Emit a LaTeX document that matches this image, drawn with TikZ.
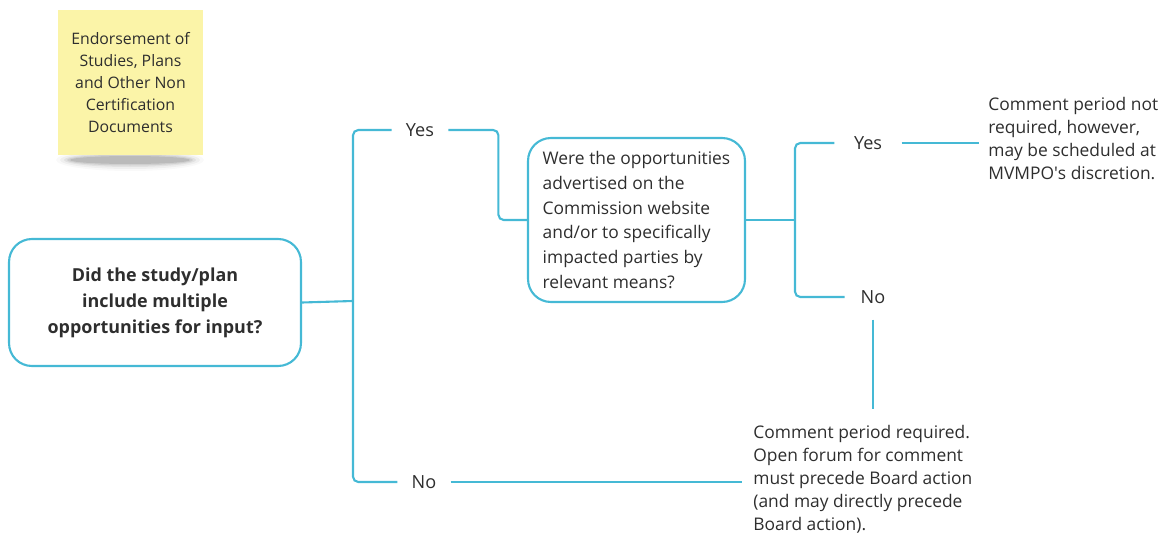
\documentclass[tikz,border=0pt]{standalone}
\usepackage{fontspec}
\setmainfont{Open Sans}
\usetikzlibrary{positioning}
\definecolor{linkblue}{HTML}{45B9D5}
\definecolor{noteyellow}{HTML}{FBF4A8}
\definecolor{inkgray}{HTML}{2E2E2E}
\tikzset{
  link/.style={draw=linkblue,line width=1.2pt},
  qbox/.style={draw=linkblue,line width=1.2pt,rounded corners=13pt,align=center,text=inkgray},
  answer/.style={inner xsep=8pt,inner ysep=2pt,text=inkgray,font=\fontsize{10.3}{13}\selectfont},
  outcome/.style={inner sep=0pt,align=left,anchor=north west,text=inkgray,font=\fontsize{9.9}{13.1}\selectfont}
}
\begin{document}
\begin{tikzpicture}[x=0.02cm,y=-0.02cm]
  \useasboundingbox (0,0) rectangle (1169,544);
  % sticky note with soft shadow
  \foreach \s/\o in {16/0.025,12/0.04,8/0.06,5/0.08,2/0.1}
    \fill[black,opacity=\o] (130,160) ellipse ({58+\s} and {3+\s/2});
  \node[fill=noteyellow,minimum width=2.9cm,minimum height=2.9cm,inner sep=0pt,align=center,
        text=inkgray,font=\fontsize{9}{12.4}\selectfont] (note) at (130.5,82.5)
    {Endorsement of\\Studies, Plans\\and Other Non\\Certification\\Documents};
  % questions
  \node[qbox,minimum width=5.84cm,minimum height=2.54cm,font=\bfseries\fontsize{10.2}{14.8}\selectfont] (q1) at (155,302.5)
    {Did the study/plan\\include multiple\\opportunities for input?};
  \node[qbox,minimum width=4.34cm,minimum height=3.28cm,align=left,font=\fontsize{9.9}{14.2}\selectfont] (q2) at (636.5,220)
    {Were the opportunities\\advertised on the\\Commission website\\and/or to specifically\\impacted parties by\\relevant means?};
  % answers
  \node[answer] (yes1) at (420,130) {Yes};
  \node[answer] (no1) at (424,482) {No};
  \node[answer,inner xsep=11pt] (yes2) at (868,143) {Yes};
  \node[answer,inner xsep=9pt] (no2) at (873,297) {No};
  % outcomes
  \node[outcome] (res1) at (988,97) {Comment period not\\required, however,\\may be scheduled at\\MVMPO\textquotesingle s discretion.};
  \node[outcome] (res2) at (753,425) {Comment period required.\\Open forum for comment\\must precede Board action\\(and may directly precede\\Board action).};
  % connectors
  \coordinate (br1) at (353,301);
  \coordinate (br2) at (795,220);
  \draw[link] (q1.east) -- (br1);
  \draw[link,rounded corners=3pt] (yes1.west) -| (br1);
  \draw[link,rounded corners=3pt] (no1.west) -| (br1);
  \draw[link,rounded corners=3pt] (yes1.east) -- ++(50,0) |- (q2.west);
  \draw[link,shorten >=6pt] (no1.east) -- (no1.east -| res2.west);
  \draw[link] (q2.east) -- (br2);
  \draw[link,rounded corners=3pt] (yes2.west) -| (br2);
  \draw[link,rounded corners=3pt] (no2.west) -| (br2);
  \draw[link,shorten >=5pt] (yes2.east) -- (yes2.east -| res1.west);
  \draw[link,shorten <=7pt,shorten >=9pt] (no2.south) -- (no2.south |- res2.north);
\end{tikzpicture}
\end{document}
